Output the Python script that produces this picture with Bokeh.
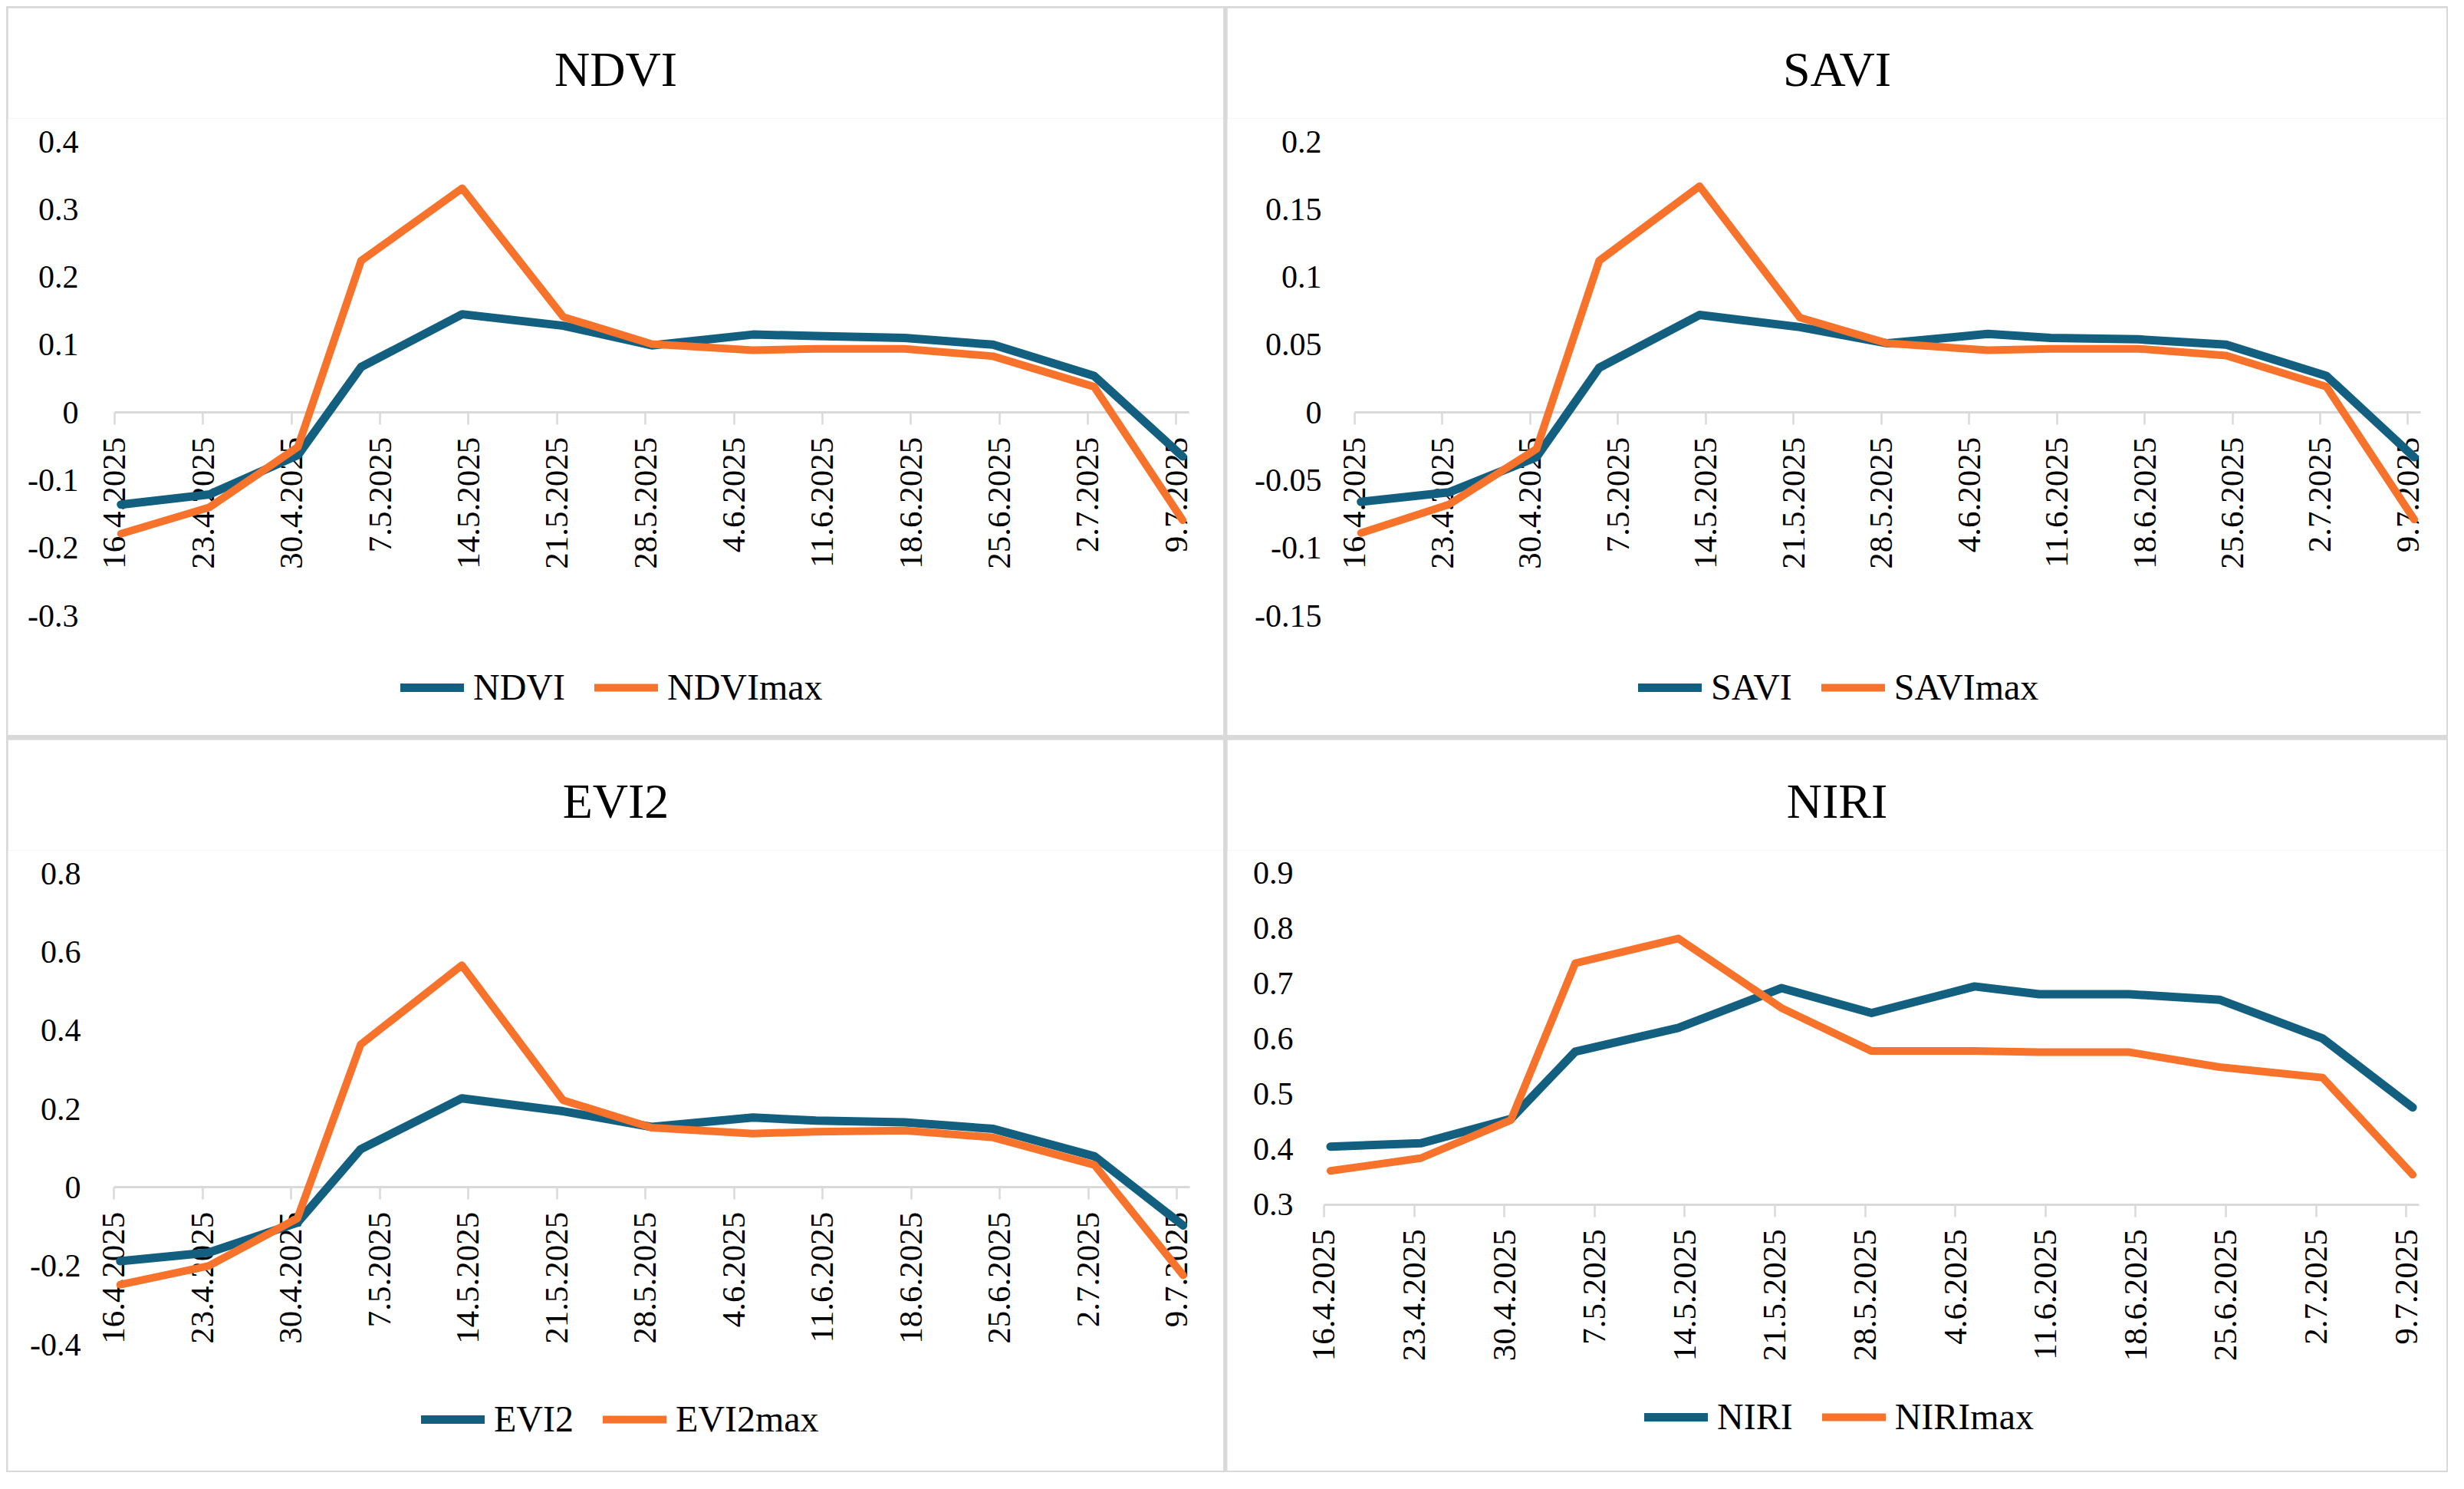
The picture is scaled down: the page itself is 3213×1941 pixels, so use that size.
import math
from datetime import date

from bokeh.plotting import figure
from bokeh.models import (Range1d, FixedTicker, Legend, LegendItem, ColumnDataSource,
                          CustomJSTickFormatter)
from bokeh.layouts import row, column
from bokeh.embed import file_html
from bokeh.resources import INLINE

# ---------------- data ----------------
sample_dates = ["16.4.2025", "23.4.2025", "30.4.2025", "5.5.2025", "13.5.2025",
                "21.5.2025", "28.5.2025", "5.6.2025", "10.6.2025", "17.6.2025",
                "24.6.2025", "2.7.2025", "9.7.2025"]
tick_labels = ["16.4.2025", "23.4.2025", "30.4.2025", "7.5.2025", "14.5.2025",
               "21.5.2025", "28.5.2025", "4.6.2025", "11.6.2025", "18.6.2025",
               "25.6.2025", "2.7.2025", "9.7.2025"]

ndvi = [-0.136, -0.121, -0.063, 0.067, 0.145, 0.128, 0.099, 0.115, 0.113, 0.110, 0.100, 0.054, -0.065]
ndvi_max = [-0.179, -0.140, -0.051, 0.224, 0.331, 0.141, 0.101, 0.092, 0.094, 0.094, 0.083, 0.038, -0.159]
savi = [-0.066, -0.059, -0.033, 0.033, 0.072, 0.063, 0.051, 0.058, 0.055, 0.054, 0.050, 0.027, -0.033]
savi_max = [-0.089, -0.068, -0.027, 0.112, 0.167, 0.070, 0.051, 0.046, 0.047, 0.047, 0.042, 0.019, -0.079]
evi2 = [-0.188, -0.166, -0.090, 0.097, 0.227, 0.194, 0.154, 0.178, 0.170, 0.166, 0.149, 0.079, -0.097]
evi2_max = [-0.248, -0.200, -0.079, 0.364, 0.566, 0.222, 0.152, 0.137, 0.142, 0.145, 0.127, 0.057, -0.224]
niri = [0.405, 0.411, 0.455, 0.577, 0.620, 0.692, 0.647, 0.695, 0.681, 0.681, 0.671, 0.601, 0.476]
niri_max = [0.361, 0.384, 0.453, 0.737, 0.782, 0.656, 0.578, 0.578, 0.576, 0.576, 0.549, 0.530, 0.354]

ndvi_ticks = [-0.3, -0.2, -0.1, 0, 0.1, 0.2, 0.3, 0.4]
ndvi_tick_labels = ["-0.3", "-0.2", "-0.1", "0", "0.1", "0.2", "0.3", "0.4"]
savi_ticks = [-0.15, -0.1, -0.05, 0, 0.05, 0.1, 0.15, 0.2]
savi_tick_labels = ["-0.15", "-0.1", "-0.05", "0", "0.05", "0.1", "0.15", "0.2"]
evi2_ticks = [-0.4, -0.2, 0, 0.2, 0.4, 0.6, 0.8]
evi2_tick_labels = ["-0.4", "-0.2", "0", "0.2", "0.4", "0.6", "0.8"]
niri_ticks = [0.3, 0.4, 0.5, 0.6, 0.7, 0.8, 0.9]
niri_tick_labels = ["0.3", "0.4", "0.5", "0.6", "0.7", "0.8", "0.9"]

# ---------------- style ----------------
BLUE = "#135F80"
ORANGE = "#F7722A"
GRAY = "#D9D9D9"
FONT = "Liberation Serif"
START = date(2025, 4, 16)

LOOKUP = """
for (let i = 0; i < pos.length; i++) {
    if (Math.abs(pos[i] - tick) < 1e-9) { return labels[i]; }
}
return '';
"""


def day_index(s):
    d, m, y = (int(t) for t in s.split("."))
    return (date(y, m, d) - START).days


tick_pos = [day_index(s) for s in tick_labels]
x_vals = [day_index(s) + 0.5 for s in sample_dates]  # date axis: points sit between tick marks
x_last = tick_pos[-1] + 1


def make_panel(title, names, series, yticks, ylabels, width, height,
               tick0_px, px_per_day, ytop_px, ybot_px, ylab_px, axis_at,
               legend_xy, margin):
    pad_top = 30
    px_per_unit = (ybot_px - ytop_px) / (yticks[-1] - yticks[0])
    y_end = yticks[-1] + pad_top / px_per_unit
    y_start = yticks[0] - (height - ybot_px) / px_per_unit
    x_start = -tick0_px / px_per_day
    x_end = x_start + width / px_per_day

    p = figure(width=width, height=height, output_backend="svg", toolbar_location=None,
               x_range=Range1d(x_start, x_end), y_range=Range1d(y_start, y_end),
               min_border=0, min_border_left=0, min_border_right=0,
               min_border_top=ytop_px - pad_top, min_border_bottom=0,
               outline_line_color=None, background_fill_color="white",
               border_fill_color="white", margin=margin)
    p.grid.visible = False

    p.title.text = title
    p.title.align = "center"
    p.title.text_font = FONT
    p.title.text_font_size = "64px"
    p.title.text_font_style = "normal"
    p.title.text_color = "black"
    p.title.standoff = 58

    src = ColumnDataSource(dict(x=x_vals, a=series[0], b=series[1]))
    r1 = p.line("x", "a", source=src, line_color=BLUE, line_width=11,
                line_join="round", line_cap="round")
    r2 = p.line("x", "b", source=src, line_color=ORANGE, line_width=10,
                line_join="round", line_cap="round")

    xa = p.xaxis[0]
    xa.fixed_location = axis_at
    xa.bounds = (0, x_last)
    xa.level = "underlay"
    xa.ticker = FixedTicker(ticks=tick_pos)
    xa.formatter = CustomJSTickFormatter(args=dict(pos=tick_pos, labels=tick_labels), code=LOOKUP)
    xa.major_label_orientation = math.pi / 2
    xa.axis_line_color = GRAY
    xa.axis_line_width = 3
    xa.major_tick_line_color = GRAY
    xa.major_tick_line_width = 2.5
    xa.major_tick_out = 16
    xa.major_tick_in = 0
    xa.minor_tick_line_color = None
    xa.major_label_standoff = 16
    xa.major_label_text_font = FONT
    xa.major_label_text_font_style = "normal"
    xa.major_label_text_font_size = "43px"
    xa.major_label_text_color = "black"

    ya = p.yaxis[0]
    ya.fixed_location = (ylab_px - tick0_px) / px_per_day
    ya.ticker = FixedTicker(ticks=yticks)
    ya.formatter = CustomJSTickFormatter(args=dict(pos=yticks, labels=ylabels), code=LOOKUP)
    ya.axis_line_color = None
    ya.major_tick_line_color = None
    ya.minor_tick_line_color = None
    ya.major_tick_out = 0
    ya.major_tick_in = 0
    ya.major_label_standoff = 0
    ya.major_label_text_font = FONT
    ya.major_label_text_font_style = "normal"
    ya.major_label_text_font_size = "42px"
    ya.major_label_text_color = "black"

    legend = Legend(items=[LegendItem(label=names[0], renderers=[r1]),
                           LegendItem(label=names[1], renderers=[r2])],
                    orientation="horizontal", location=legend_xy,
                    glyph_width=83, glyph_height=20, label_standoff=12, spacing=38,
                    padding=0, margin=0, border_line_color=None,
                    background_fill_alpha=0,
                    label_text_font=FONT, label_text_font_size="48px",
                    label_text_color="black")
    p.add_layout(legend, "center")
    return p


p1 = make_panel("NDVI", ["NDVI", "NDVImax"], [ndvi, ndvi_max], ndvi_ticks, ndvi_tick_labels,
                1585, 948, 139, 16.48, 174, 792, 92, 0, (512, 35), (2, 2, 3, 2))
p2 = make_panel("SAVI", ["SAVI", "SAVImax"], [savi, savi_max], savi_ticks, savi_tick_labels,
                1590, 948, 166, 16.35, 174, 792, 123, 0, (536, 35), (2, 2, 3, 3))
p3 = make_panel("EVI2", ["EVI2", "EVI2max"], [evi2, evi2_max], evi2_ticks, evi2_tick_labels,
                1585, 953, 138, 16.5, 174, 788, 95, 0, (539, 40), (3, 2, 2, 2))
p4 = make_panel("NIRI", ["NIRI", "NIRImax"], [niri, niri_max], niri_ticks, niri_tick_labels,
                1590, 953, 126, 16.8, 170, 604, 86, 0.3, (544, 43), (3, 2, 2, 3))

layout = column(row(p1, p2), row(p3, p4), margin=(8, 0, 0, 8),
                styles={"background-color": GRAY})

with open("out.html", "w") as f:
    f.write(file_html(layout, INLINE))
